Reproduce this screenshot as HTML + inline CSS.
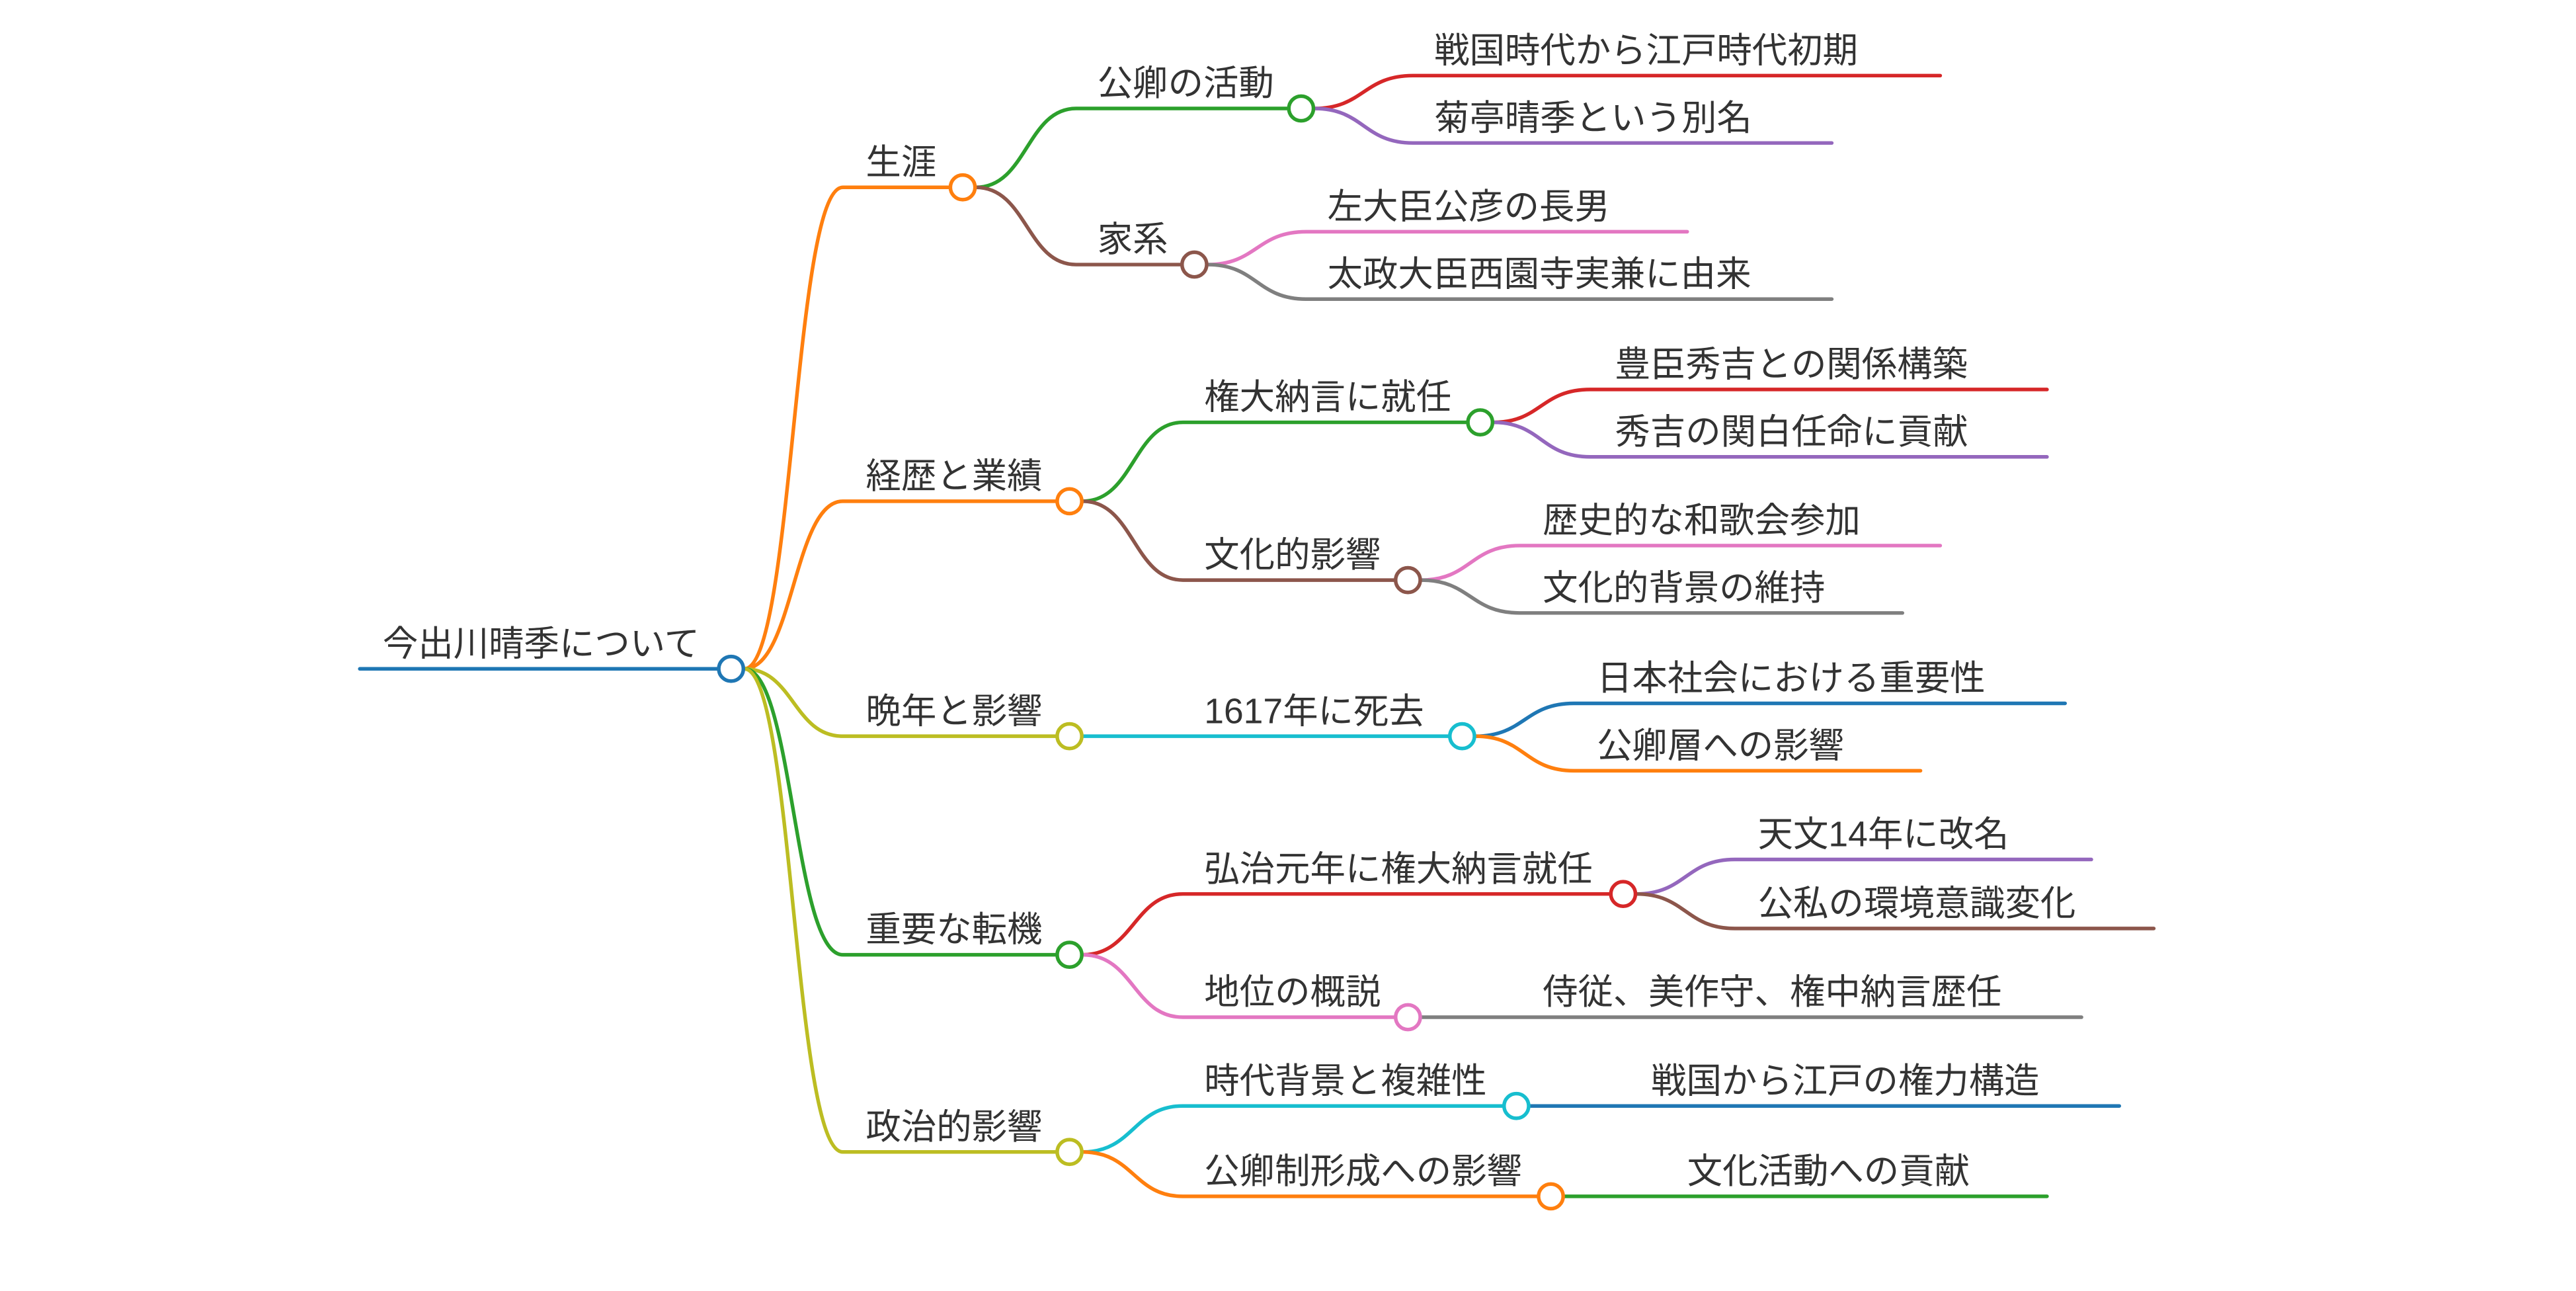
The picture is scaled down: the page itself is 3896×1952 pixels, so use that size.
<!DOCTYPE html>
<html><head><meta charset="utf-8">
<style>html,body{margin:0;padding:0;background:#fff;}svg{display:block}</style>
</head><body>
<svg width="3896" height="1952" viewBox="0 0 1568 785.6" xmlns="http://www.w3.org/2000/svg">
<g fill="none" stroke-width="2.2" stroke-linecap="round">
<path d="M219 407 H437" stroke="#1f77b4"/>
<path d="M453 407 C483 407 483 114 513 114 H578" stroke="#ff7f0e"/>
<path d="M453 407 C483 407 483 305 513 305 H643" stroke="#ff7f0e"/>
<path d="M453 407 C483 407 483 448 513 448 H643" stroke="#bcbd22"/>
<path d="M453 407 C483 407 483 581 513 581 H643" stroke="#2ca02c"/>
<path d="M453 407 C483 407 483 701 513 701 H643" stroke="#bcbd22"/>
<path d="M594 114 C625 114 625 66 655 66 H784" stroke="#2ca02c"/>
<path d="M594 114 C625 114 625 161 655 161 H719" stroke="#8c564b"/>
<path d="M659 305 C690 305 690 257 720 257 H893" stroke="#2ca02c"/>
<path d="M659 305 C690 305 690 353 720 353 H849" stroke="#8c564b"/>
<path d="M659 448 H882" stroke="#17becf"/>
<path d="M659 581 C690 581 690 544 720 544 H980" stroke="#d62728"/>
<path d="M659 581 C690 581 690 619 720 619 H849" stroke="#e377c2"/>
<path d="M659 701 C690 701 690 673 720 673 H915" stroke="#17becf"/>
<path d="M659 701 C690 701 690 728 720 728 H936" stroke="#ff7f0e"/>
<path d="M800 66 C830 66 830 46 860 46 H1181" stroke="#d62728"/>
<path d="M800 66 C830 66 830 87 860 87 H1115" stroke="#9467bd"/>
<path d="M735 161 C765 161 765 141 795 141 H1027" stroke="#e377c2"/>
<path d="M735 161 C765 161 765 182 795 182 H1115" stroke="#7f7f7f"/>
<path d="M909 257 C938 257 938 237 968 237 H1246" stroke="#d62728"/>
<path d="M909 257 C938 257 938 278 968 278 H1246" stroke="#9467bd"/>
<path d="M865 353 C895 353 895 332 925 332 H1181" stroke="#e377c2"/>
<path d="M865 353 C895 353 895 373 925 373 H1158" stroke="#7f7f7f"/>
<path d="M898 448 C928 448 928 428 958 428 H1257" stroke="#1f77b4"/>
<path d="M898 448 C928 448 928 469 958 469 H1169" stroke="#ff7f0e"/>
<path d="M996 544 C1026 544 1026 523 1056 523 H1273" stroke="#9467bd"/>
<path d="M996 544 C1026 544 1026 565 1056 565 H1311" stroke="#8c564b"/>
<path d="M865 619 H1267" stroke="#7f7f7f"/>
<path d="M931 673 H1290" stroke="#1f77b4"/>
<path d="M952 728 H1246" stroke="#2ca02c"/>
</g>
<g fill="#fff" stroke-width="2.2">
<circle cx="445" cy="407" r="7.5" stroke="#1f77b4"/>
<circle cx="586" cy="114" r="7.5" stroke="#ff7f0e"/>
<circle cx="651" cy="305" r="7.5" stroke="#ff7f0e"/>
<circle cx="651" cy="448" r="7.5" stroke="#bcbd22"/>
<circle cx="651" cy="581" r="7.5" stroke="#2ca02c"/>
<circle cx="651" cy="701" r="7.5" stroke="#bcbd22"/>
<circle cx="792" cy="66" r="7.5" stroke="#2ca02c"/>
<circle cx="727" cy="161" r="7.5" stroke="#8c564b"/>
<circle cx="901" cy="257" r="7.5" stroke="#2ca02c"/>
<circle cx="857" cy="353" r="7.5" stroke="#8c564b"/>
<circle cx="890" cy="448" r="7.5" stroke="#17becf"/>
<circle cx="988" cy="544" r="7.5" stroke="#d62728"/>
<circle cx="857" cy="619" r="7.5" stroke="#e377c2"/>
<circle cx="923" cy="673" r="7.5" stroke="#17becf"/>
<circle cx="944" cy="728" r="7.5" stroke="#ff7f0e"/>
</g>
<g font-family="'Liberation Sans','Noto Sans CJK JP',sans-serif" font-size="21.5" fill="#333">
<text x="233" y="399">今出川晴季について</text>
<text x="527" y="106">生涯</text>
<text x="527" y="297">経歴と業績</text>
<text x="527" y="440">晩年と影響</text>
<text x="527" y="573">重要な転機</text>
<text x="527" y="693">政治的影響</text>
<text x="668" y="58">公卿の活動</text>
<text x="668" y="153">家系</text>
<text x="733" y="249">権大納言に就任</text>
<text x="733" y="345">文化的影響</text>
<text x="733" y="440">1617年に死去</text>
<text x="733" y="536">弘治元年に権大納言就任</text>
<text x="733" y="611">地位の概説</text>
<text x="733" y="665">時代背景と複雑性</text>
<text x="733" y="720">公卿制形成への影響</text>
<text x="873" y="38">戦国時代から江戸時代初期</text>
<text x="873" y="79">菊亭晴季という別名</text>
<text x="808" y="133">左大臣公彦の長男</text>
<text x="808" y="174">太政大臣西園寺実兼に由来</text>
<text x="983" y="229">豊臣秀吉との関係構築</text>
<text x="983" y="270">秀吉の関白任命に貢献</text>
<text x="939" y="324">歴史的な和歌会参加</text>
<text x="939" y="365">文化的背景の維持</text>
<text x="972" y="420">日本社会における重要性</text>
<text x="972" y="461">公卿層への影響</text>
<text x="1070" y="515">天文14年に改名</text>
<text x="1070" y="557">公私の環境意識変化</text>
<text x="939" y="611">侍従、美作守、権中納言歴任</text>
<text x="1005" y="665">戦国から江戸の権力構造</text>
<text x="1027" y="720">文化活動への貢献</text>
</g>
</svg>
</body></html>
